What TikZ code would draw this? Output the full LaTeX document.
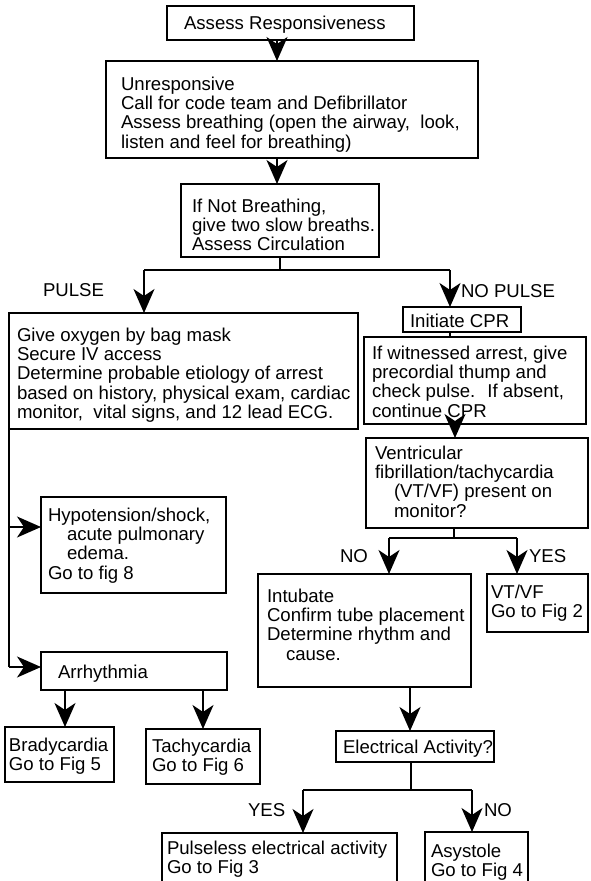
\documentclass[tikz,border=0pt]{standalone}
\usepackage{fontspec}
\setmainfont{Liberation Sans}
\usetikzlibrary{arrows.meta}
\newcommand{\mkbox}[5]{\node[boxst, minimum width={(#4-#2)*1pt}, minimum height={(#5-#3)*1pt}] (#1) at ({(#2+#4)/2},{(#3+#5)/2}) {};}
\newcommand{\mylines}[1]{\begin{tabular}[t]{@{}l@{}}#1\end{tabular}}
\newcommand{\ind}{\hspace*{19pt}}
\begin{document}
\begin{tikzpicture}[x=1pt,y=-1pt,
  boxst/.style={draw, line width=1.7pt, inner sep=0pt, outer sep=0pt},
  txt/.style={inner sep=0pt, outer sep=0pt, anchor=base west, font=\fontsize{18.6}{19.4}\selectfont},
  ln/.style={line width=1.8pt},
  arr/.style={line width=1.8pt, -{Stealth[length=24pt,width=21pt,inset=7pt]}}]
\useasboundingbox (0,0) rectangle (590,881);
\clip (0,0) rectangle (590,881);
% boxes
\mkbox{assess}{167}{6}{414}{40}
\mkbox{unresp}{106}{61}{478}{158}
\mkbox{notbr}{181}{184}{379}{257}
\mkbox{oxy}{9}{313}{358}{429}
\mkbox{cpr}{403}{307}{521}{332}
\mkbox{witn}{364}{337}{586}{424}
\mkbox{vent}{366}{438}{588}{528}
\mkbox{hypo}{41}{497}{226}{593}
\mkbox{intub}{258}{574}{471}{687}
\mkbox{vtvf}{487}{574}{588}{632}
\mkbox{arrh}{41}{652}{227}{690}
\mkbox{brady}{5}{727}{114}{782}
\mkbox{tachy}{146}{729}{260}{784}
\mkbox{elec}{336}{731}{494}{762}
\mkbox{pea}{162}{833}{397}{900}
\mkbox{asys}{425}{832}{528}{900}
% texts
\node[txt] (tassess) at (184,29) {Assess Responsiveness};
\node[txt] (tunresp) at (121,90) {\mylines{Unresponsive\\Call for code team and Defibrillator\\Assess breathing (open the airway, \ look,\\listen and feel for breathing)}};
\node[txt] (tnotbr) at (192,212) {\mylines{If Not Breathing,\\give two slow breaths.\\Assess Circulation}};
\node[txt] (toxy) at (17,341) {\mylines{Give oxygen by bag mask\\Secure IV access\\Determine probable etiology of arrest\\based on history, physical exam, cardiac\\monitor, \ vital signs, and 12 lead ECG.}};
\node[txt] (tcpr) at (410,327) {Initiate CPR};
\node[txt] (twitn) at (372,359) {\mylines{If witnessed arrest, give\\precordial thump and\\check pulse. \ If absent,\\continue CPR}};
\node[txt] (tvent) at (375,459) {\mylines{Ventricular\\fibrillation/tachycardia\\\ind(VT/VF) present on\\\ind monitor?}};
\node[txt] (thypo) at (48,521) {\mylines{Hypotension/shock,\\\ind acute pulmonary\\\ind edema.\\Go to fig 8}};
\node[txt] (tintub) at (267,602) {\mylines{Intubate\\Confirm tube placement\\Determine rhythm and\\\ind cause.}};
\node[txt] (tvtvf) at (491,598) {\mylines{VT/VF\\Go to Fig 2}};
\node[txt] (tarrh) at (58,678) {Arrhythmia};
\node[txt] (tbrady) at (9,751) {\mylines{Bradycardia\\Go to Fig 5}};
\node[txt] (ttachy) at (152,752) {\mylines{Tachycardia\\Go to Fig 6}};
\node[txt] (telec) at (343,753) {Electrical Activity?};
\node[txt] (tpea) at (167,854) {\mylines{Pulseless electrical activity\\Go to Fig 3}};
\node[txt] (tasys) at (431,857) {\mylines{Asystole\\Go to Fig 4}};
% labels
\node[txt] (lpulse) at (43,296) {PULSE};
\node[txt] (lnopulse) at (461,297) {NO PULSE};
\node[txt] (lno1) at (340,562) {NO};
\node[txt] (lyes1) at (529,562) {YES};
\node[txt] (lyes2) at (248,816) {YES};
\node[txt] (lno2) at (484,816) {NO};
% helper coordinates
\coordinate (xa) at (277,0);
\coordinate (jL) at (144,270);
\coordinate (jR) at (450,270);
\coordinate (xb) at (455,0);
\coordinate (vj) at (454,538);
\coordinate (vL) at (389,538);
\coordinate (vR) at (517,538);
\coordinate (hy) at (9,527);
\coordinate (ay) at (9,667);
\coordinate (xc) at (65,0);
\coordinate (xd) at (203,0);
\coordinate (xe) at (410,0);
\coordinate (ej) at (411,790);
\coordinate (eL) at (303,790);
\coordinate (eR) at (472,790);
% connectors
\draw[arr] (assess.south -| xa) -- (unresp.north -| xa);
\draw[arr] (unresp.south -| xa) -- (notbr.north -| xa);
\draw[ln] (notbr.south) -- (notbr.south |- jL);
\draw[ln] (jL) -- (jR);
\draw[arr] (jL) -- (jL |- oxy.north);
\draw[arr] (jR) -- (jR |- cpr.north);
\draw[ln] (cpr.south -| jR) -- (witn.north -| jR);
\draw[arr] (witn.south -| xb) -- (vent.north -| xb);
\draw[ln] (vent.south -| vj) -- (vj);
\draw[ln] (vL) -- (vR);
\draw[arr] (vL) -- (vL |- intub.north);
\draw[arr] (vR) -- (vR |- vtvf.north);
\draw[ln] (oxy.south west) -- (ay);
\draw[arr] (hy) -- (hy -| hypo.west);
\draw[arr] (ay) -- (ay -| arrh.west);
\draw[arr] (arrh.south -| xc) -- (brady.north -| xc);
\draw[arr] (arrh.south -| xd) -- (tachy.north -| xd);
\draw[arr] (intub.south -| xe) -- (elec.north -| xe);
\draw[ln] (elec.south -| ej) -- (ej);
\draw[ln] (eL) -- (eR);
\draw[arr] (eL) -- (eL |- pea.north);
\draw[arr] (eR) -- (eR |- asys.north);
\end{tikzpicture}
\end{document}
